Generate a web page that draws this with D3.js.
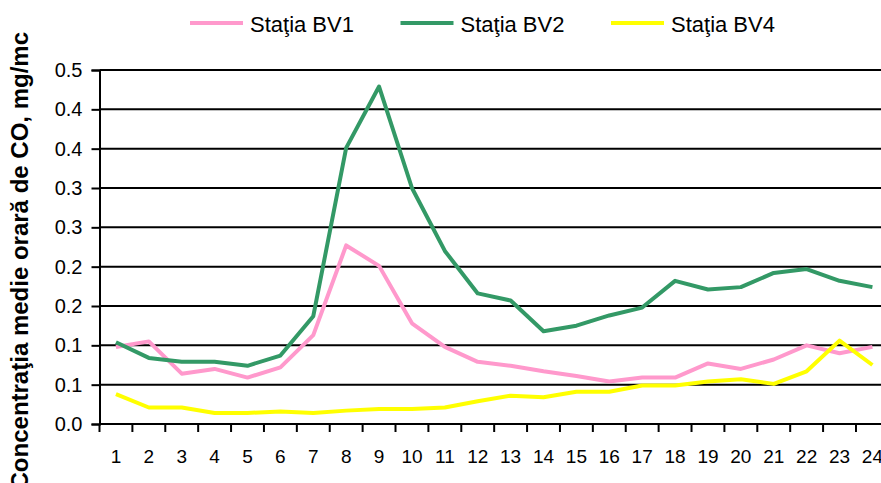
<!DOCTYPE html>
<html>
<head>
<meta charset="utf-8">
<script src="https://cdn.jsdelivr.net/npm/d3@7/dist/d3.min.js"></script>
<style>
  body { margin: 0; background: #fff; }
  svg { display: block; font-family: Arial, "Liberation Sans", sans-serif; }
</style>
</head>
<body>
<div id="chart"></div>
<script>
var hours = d3.range(1, 25);
var yTicks = [0, 0.05, 0.1, 0.15, 0.2, 0.25, 0.3, 0.35, 0.4, 0.45];
var seriesNames = ["Staţia BV1", "Staţia BV2", "Staţia BV4"];
var seriesColors = ["#ff99cc", "#339966", "#ffff00"];

var bv1 = [0.098, 0.105, 0.064, 0.070, 0.059, 0.072, 0.113, 0.227, 0.201, 0.128, 0.098, 0.079,
           0.074, 0.067, 0.061, 0.054, 0.059, 0.059, 0.077, 0.070, 0.082, 0.100, 0.090, 0.098];
var bv2 = [0.104, 0.084, 0.079, 0.079, 0.074, 0.087, 0.137, 0.351, 0.429, 0.300, 0.220, 0.166,
           0.157, 0.118, 0.125, 0.138, 0.148, 0.182, 0.171, 0.174, 0.192, 0.197, 0.182, 0.174];
var bv4 = [0.038, 0.021, 0.021, 0.014, 0.014, 0.016, 0.014, 0.017, 0.019, 0.019, 0.021, 0.029,
           0.036, 0.034, 0.041, 0.041, 0.049, 0.049, 0.054, 0.057, 0.051, 0.067, 0.106, 0.075];

var width = 881, height = 483;
var svg = d3.select("#chart")
    .append("svg")
    .attr("width", width)
    .attr("height", height);

var x = d3.scaleBand()
    .domain(hours)
    .range([99.5, 99.5 + 24 * 32.89]);

var y = d3.scaleLinear()
    .domain([0, 0.45])
    .range([424, 70]);

// grid
svg.selectAll(".grid")
    .data(yTicks.slice(1))
    .enter()
    .append("line")
    .attr("class", "grid")
    .attr("x1", x.range()[0])
    .attr("x2", x.range()[1])
    .attr("y1", function(d) { return y(d); })
    .attr("y2", function(d) { return y(d); })
    .attr("stroke", "#000")
    .attr("stroke-width", 2);

// y axis
var yAxis = svg.append("g")
    .attr("transform", "translate(" + x.range()[0] + ",0)")
    .call(d3.axisLeft(y).tickValues(yTicks).tickSize(8).tickPadding(9)
        .tickFormat(function(d) { return (Math.round(d * 10 + 1e-9) / 10).toFixed(1); }));
yAxis.select(".domain").attr("stroke-width", 2);
yAxis.selectAll(".tick line").attr("stroke-width", 2);
yAxis.selectAll("text").attr("font-size", 20).attr("font-family", "Arial, 'Liberation Sans', sans-serif");

// x axis with ticks between categories
var xAxis = svg.append("g")
    .attr("transform", "translate(0," + y(0) + ")");
xAxis.append("line")
    .attr("x1", x.range()[0]).attr("x2", x.range()[1])
    .attr("stroke", "#000").attr("stroke-width", 2);
xAxis.selectAll(".xtick")
    .data(hours)
    .enter()
    .append("line")
    .attr("class", "xtick")
    .attr("x1", function(d) { return x(d); })
    .attr("x2", function(d) { return x(d); })
    .attr("y1", 0).attr("y2", 8)
    .attr("stroke", "#000").attr("stroke-width", 2);
xAxis.selectAll(".xlabel")
    .data(hours)
    .enter()
    .append("text")
    .attr("class", "xlabel")
    .attr("x", function(d) { return x(d) + x.bandwidth() / 2; })
    .attr("y", 39)
    .attr("text-anchor", "middle")
    .attr("font-size", 19)
    .text(function(d) { return d; });

// lines
var line = d3.line()
    .x(function(d, i) { return x(hours[i]) + x.bandwidth() / 2; })
    .y(function(d) { return y(d); });

[bv1, bv2, bv4].forEach(function(s, i) {
    svg.append("path")
        .datum(s)
        .attr("fill", "none")
        .attr("stroke", seriesColors[i])
        .attr("stroke-width", 4)
        .attr("stroke-linejoin", "round")
        .attr("d", line);
});

// legend
var legend = svg.selectAll(".legend")
    .data(seriesNames)
    .enter()
    .append("g")
    .attr("class", "legend")
    .attr("transform", function(d, i) { return "translate(" + (190 + i * 210.5) + ",23)"; });
legend.append("line")
    .attr("x1", 0).attr("x2", 53)
    .attr("stroke", function(d, i) { return seriesColors[i]; })
    .attr("stroke-width", 4);
legend.append("text")
    .attr("x", 60)
    .attr("y", 9)
    .attr("font-size", 22)
    .text(function(d) { return d; });

// y title
svg.append("text")
    .attr("transform", "translate(28,32) rotate(-90)")
    .attr("text-anchor", "end")
    .attr("font-size", 24)
    .attr("font-weight", "bold")
    .text("Concentraţia medie orară de CO, mg/mc");
</script>
</body>
</html>
